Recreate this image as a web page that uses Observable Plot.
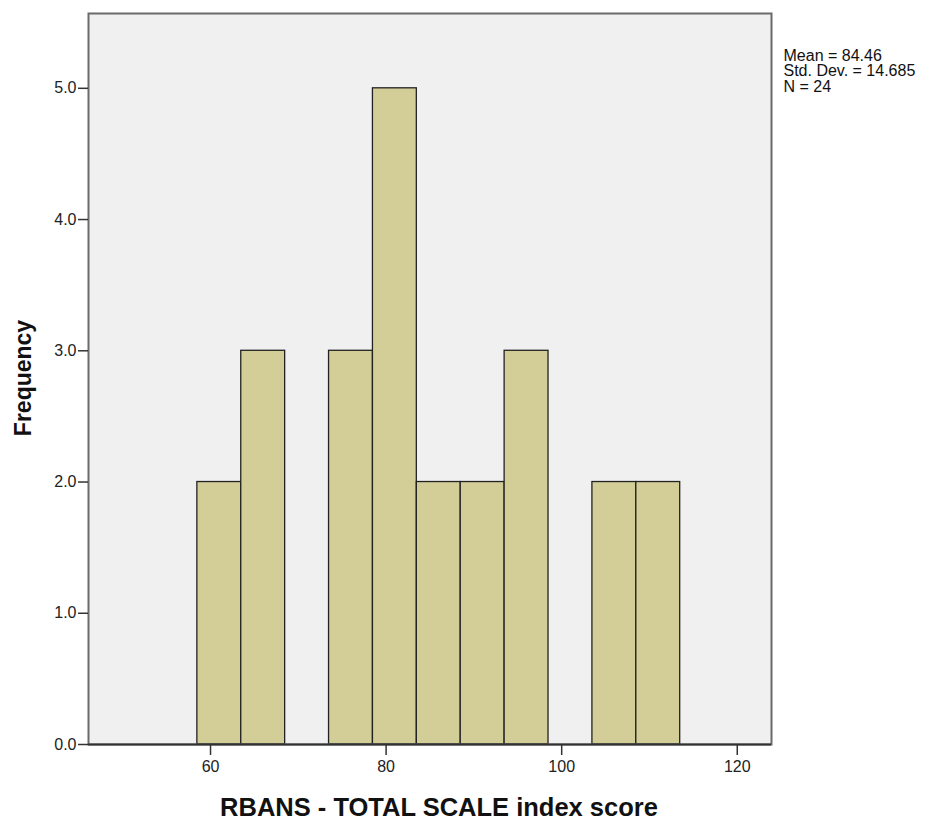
<!DOCTYPE html>
<html>
<head>
<meta charset="utf-8">
<script src="https://cdn.jsdelivr.net/npm/d3@7"></script>
<script src="https://cdn.jsdelivr.net/npm/@observablehq/plot@0.6"></script>
<style>
  html, body { margin: 0; padding: 0; background: #fff; }
</style>
</head>
<body>
<div id="chart"></div>
<script>
// Histogram bins (bin start, width 5) and frequencies
const binStarts = [58.5, 63.5, 73.5, 78.5, 83.5, 88.5, 93.5, 103.5, 108.5];
const binWidth = 5;
const frequencies = [2, 3, 3, 5, 2, 2, 3, 2, 2];
const xTicks = [60, 80, 100, 120];
const yTicks = [0, 1, 2, 3, 4, 5];
const statsLines = ["Mean = 84.46", "Std. Dev. = 14.685", "N = 24"];
const xLabel = "RBANS - TOTAL SCALE index score";
const yLabel = "Frequency";

const bins = binStarts.map((s, i) => ({x1: s, x2: s + binWidth, count: frequencies[i]}));

const chart = Plot.plot({
  width: 936,
  height: 823,
  marginLeft: 88,
  marginRight: 165,
  marginTop: 13,
  marginBottom: 79,
  style: {fontFamily: "'Liberation Sans', Arial, sans-serif", fontSize: "16px", background: "#fff", color: "#222"},
  x: {domain: [46.1, 123.9], ticks: xTicks, label: null},
  y: {domain: [0, 5.57], ticks: yTicks, label: null, tickFormat: d3.format(".1f")},
  marks: [
    Plot.frame({fill: "#f0f0f0", stroke: null}),
    Plot.rectY(bins, {x1: "x1", x2: "x2", y: "count", fill: "#d3ce97", stroke: "#222", strokeWidth: 1.3}),
    Plot.frame({stroke: "#6a6a6a", strokeWidth: 2, fill: "none"}),
    Plot.ruleY([0], {stroke: "#333", strokeWidth: 2}),
    Plot.axisX({ticks: xTicks, tickSize: 11, tickPadding: 5, fontSize: 16, stroke: "#333", strokeWidth: 1.5, label: null}),
    Plot.axisY({ticks: yTicks, tickSize: 10, tickPadding: 2, fontSize: 16, stroke: "#333", strokeWidth: 1.5, tickFormat: d3.format(".1f"), label: null}),
    Plot.text([xLabel], {frameAnchor: "bottom", dx: 9, dy: 63, lineAnchor: "middle", textAnchor: "middle", fontSize: 25.5, fontWeight: "bold", fill: "#111"}),
    Plot.text([yLabel], {frameAnchor: "left", dx: -65, dy: -1, rotate: -90, lineAnchor: "middle", textAnchor: "middle", fontSize: 23, fontWeight: "bold", fill: "#111"}),
    Plot.text([statsLines.join("\n")], {frameAnchor: "top-right", dx: 12, dy: 37, textAnchor: "start", lineAnchor: "top", fontSize: 16, lineHeight: 0.95, fill: "#111"})
  ]
});
document.getElementById("chart").appendChild(chart);
</script>
</body>
</html>
